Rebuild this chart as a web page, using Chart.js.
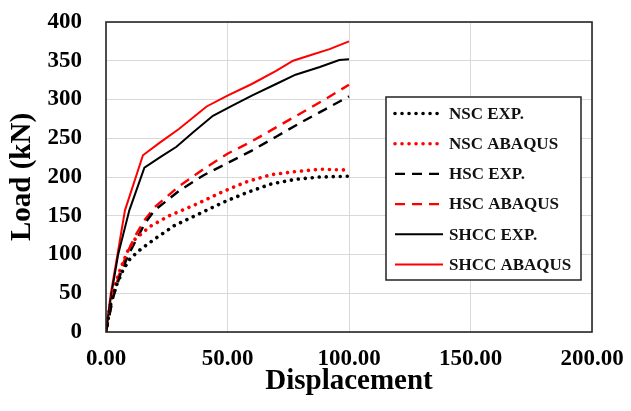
<!DOCTYPE html>
<html>
<head>
<meta charset="utf-8">
<script src="https://cdn.jsdelivr.net/npm/chart.js@4.4.1/dist/chart.umd.min.js"></script>
<style>
  html, body { margin: 0; padding: 0; background: #fff; }
  #wrap { width: 631px; height: 411px; }
</style>
</head>
<body>
<div id="wrap"><canvas id="myChart" width="631" height="411"></canvas></div>
<script>
// displacement (x) and load (kN) values
const nscExpX = [0, 2, 4, 7, 10, 14, 20, 28, 38, 48, 58, 68, 78, 88, 100];
const nscExpY = [0, 38, 58, 80, 95, 106, 120, 137, 152, 167, 180, 191, 197, 200, 201];

const nscAbqX = [0, 1.5, 3, 6, 9, 12, 18, 26, 38, 48, 58, 68, 78, 88, 100];
const nscAbqY = [0, 30, 54, 82, 105, 120, 136, 150, 166, 181, 194, 203, 207, 210, 209];

const hscExpX = [0, 3, 6, 9, 12.6, 16, 20, 30, 40, 50, 60, 70, 80, 90, 100];
const hscExpY = [0, 45, 75, 98, 120, 140, 157, 182, 202, 218, 234, 252, 270, 287, 304];

const hscAbqX = [0, 3, 6, 9, 12, 16, 20, 30, 40, 50, 60, 70, 80, 90, 100];
const hscAbqY = [0, 48, 80, 104, 124, 145, 161, 188, 210, 230, 246, 264, 282, 300, 319];

const shccExpX = [0, 2, 5, 9.6, 15.8, 22, 29, 36, 44, 52, 60, 70, 78, 88, 96, 100];
const shccExpY = [0, 45, 100, 157, 212, 225, 239, 258, 279, 292, 305, 320, 332, 342, 351, 352];

const shccAbqX = [0, 2, 5, 7.8, 15.2, 22, 30, 41.4, 50, 60, 70, 77, 85, 92, 100];
const shccAbqY = [0, 50, 105, 157, 228, 244, 262, 291, 305, 320, 337, 350, 358, 365, 375];

const seriesNames = ['NSC EXP.', 'NSC ABAQUS', 'HSC EXP.', 'HSC ABAQUS', 'SHCC EXP.', 'SHCC ABAQUS'];

const serif = "'Liberation Serif', 'Times New Roman', serif";

function pts(xs, ys) {
  return xs.map((x, i) => ({x: x, y: ys[i]}));
}

const dotted = {borderWidth: 3.6, borderDash: [0.01, 7], borderCapStyle: 'round'};
const dashed = {borderWidth: 2.4, borderDash: [10, 7], borderCapStyle: 'butt'};
const solid = {borderWidth: 2, borderDash: [], borderCapStyle: 'butt'};

const data = {
  datasets: [
    Object.assign({label: seriesNames[0], data: pts(nscExpX, nscExpY), borderColor: '#000'}, dotted),
    Object.assign({label: seriesNames[1], data: pts(nscAbqX, nscAbqY), borderColor: '#ff0000'}, dotted),
    Object.assign({label: seriesNames[2], data: pts(hscExpX, hscExpY), borderColor: '#000'}, dashed),
    Object.assign({label: seriesNames[3], data: pts(hscAbqX, hscAbqY), borderColor: '#ff0000'}, dashed),
    Object.assign({label: seriesNames[4], data: pts(shccExpX, shccExpY), borderColor: '#000'}, solid),
    Object.assign({label: seriesNames[5], data: pts(shccAbqX, shccAbqY), borderColor: '#ff0000'}, solid)
  ]
};
data.datasets.forEach(d => {
  d.showLine = true;
  d.pointRadius = 0;
  d.tension = 0;
  d.fill = false;
  d.backgroundColor = d.borderColor;
});

// plot frame and the boxed legend inside the plot
const framePlugin = {
  id: 'frame',
  afterDatasetsDraw(chart) {
    const ctx = chart.ctx;
    const a = chart.chartArea;
    ctx.save();
    ctx.strokeStyle = '#262626';
    ctx.lineWidth = 1.6;
    ctx.strokeRect(a.left, a.top, a.right - a.left, a.bottom - a.top);

    // legend box
    const bx = 386, by = 97, bw = 195, bh = 183;
    ctx.fillStyle = '#fff';
    ctx.fillRect(bx, by, bw, bh);
    ctx.strokeStyle = '#222';
    ctx.lineWidth = 1.5;
    ctx.strokeRect(bx, by, bw, bh);

    chart.data.datasets.forEach((ds, i) => {
      const y = 113.5 + i * 30.2;
      ctx.beginPath();
      ctx.strokeStyle = ds.borderColor;
      ctx.lineWidth = ds.borderWidth;
      ctx.lineCap = ds.borderCapStyle;
      ctx.setLineDash(ds.borderDash);
      ctx.moveTo(395, y);
      ctx.lineTo(443, y);
      ctx.stroke();
      ctx.setLineDash([]);
      ctx.fillStyle = '#111';
      ctx.font = 'bold 17px ' + serif;
      ctx.textBaseline = 'middle';
      ctx.textAlign = 'left';
      ctx.fillText(ds.label, 449, y + 1);
    });
    ctx.restore();
  }
};

const config = {
  type: 'scatter',
  data: data,
  options: {
    responsive: false,
    animation: false,
    layout: {
      padding: {top: 22, right: 39, left: 0, bottom: 0}
    },
    plugins: {
      legend: {display: false},
      tooltip: {enabled: false}
    },
    scales: {
      x: {
        type: 'linear',
        min: 0,
        max: 200,
        afterFit(scale) {
          scale.height = 79;
          scale.paddingLeft = 0;
          scale.paddingRight = 0;
        },
        border: {display: false},
        grid: {color: '#d9d9d9', lineWidth: 1, drawTicks: false},
        ticks: {
          stepSize: 50,
          padding: 13,
          color: '#000',
          font: {family: serif, size: 23, weight: 'bold'},
          callback: v => v.toFixed(2)
        },
        title: {
          display: true,
          text: 'Displacement',
          color: '#000',
          font: {family: serif, size: 29, weight: 'bold'},
          padding: {top: 0, bottom: 12}
        }
      },
      y: {
        type: 'linear',
        min: 0,
        max: 400,
        afterFit(scale) {
          scale.width = 106;
          scale.paddingTop = 0;
          scale.paddingBottom = 0;
        },
        border: {display: false},
        grid: {color: '#d9d9d9', lineWidth: 1, drawTicks: false},
        ticks: {
          stepSize: 50,
          padding: 24,
          color: '#000',
          font: {family: serif, size: 23, weight: 'bold'}
        },
        title: {
          display: true,
          text: 'Load (kN)',
          color: '#000',
          font: {family: serif, size: 29, weight: 'bold'},
          padding: {top: 5, bottom: 0}
        }
      }
    }
  },
  plugins: [framePlugin]
};

/* Rendering the Chart */
const myChart = new Chart(document.getElementById('myChart'), config);
</script>
</body>
</html>
